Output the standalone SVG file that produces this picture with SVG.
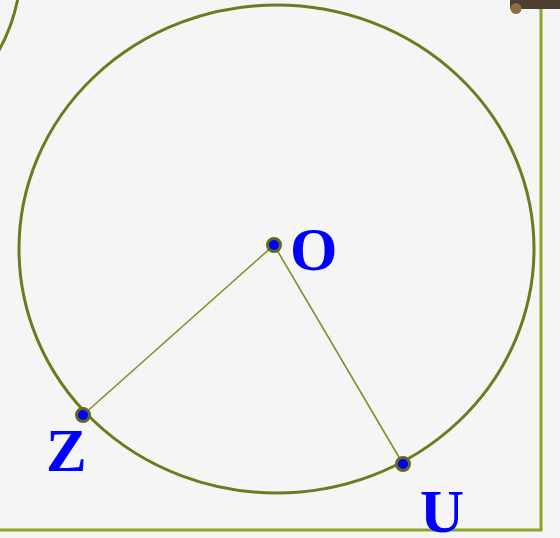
<svg xmlns="http://www.w3.org/2000/svg" width="560" height="538" viewBox="0 0 560 538">
<style>
.lbl{font-family:"Liberation Serif","Times New Roman",serif;font-weight:bold;font-size:61px;fill:#0000ff}
.pt circle{fill:#0000ff;stroke:#5f6b1c;stroke-width:3}
.seg{stroke:#7d9126;stroke-width:1.6;fill:none}
</style>
<rect width="560" height="538" fill="#f5f5f5"/>
<g id="frame">
<path d="M 541 6 L 541 530 L 0 530" fill="none" stroke="#8aa72a" stroke-width="3"/>
</g>
<g id="topbar">
<rect x="510" y="0" width="50" height="9" fill="#4d3f30"/>
<circle cx="516" cy="8.5" r="5.5" fill="#8c6c42"/>
</g>
<g id="arc-topleft">
<path d="M 18 -2 Q 12 28 -2 52" fill="none" stroke="#6b7b1e" stroke-width="3"/>
</g>
<g id="circle">
<ellipse cx="276.5" cy="249" rx="257.5" ry="244" fill="none" stroke="#6b7b1e" stroke-width="3"/>
</g>
<g id="connectors">
<line class="seg" x1="274" y1="245" x2="83" y2="415"/>
<line class="seg" x1="274" y1="245" x2="403" y2="464"/>
</g>
<g id="O" class="pt"><circle cx="274" cy="245" r="6.5"/><text class="lbl" x="290" y="270">O</text></g>
<g id="Z" class="pt"><circle cx="83" cy="415" r="6.5"/><text class="lbl" x="46" y="471">Z</text></g>
<g id="U" class="pt"><circle cx="403" cy="464" r="6.5"/><text class="lbl" x="420" y="532">U</text></g>
</svg>
